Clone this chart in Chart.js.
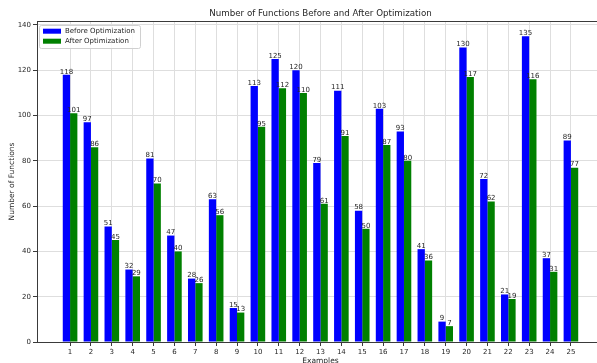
<!DOCTYPE html>
<html><head><meta charset="utf-8">
<script src="https://cdn.jsdelivr.net/npm/chart.js@4"></script>
<style>html,body{margin:0;padding:0;overflow:hidden;background:#fff}#wrap{width:640px;height:372px;position:relative}</style>
</head><body><div id="wrap"><canvas id="c" width="640" height="372"></canvas></div>
<script>
const examples = [1,2,3,4,5,6,7,8,9,10,11,12,13,14,15,16,17,18,19,20,21,22,23,24,25];
const beforeValues = [118,97,51,32,81,47,28,63,15,113,125,120,79,111,58,103,93,41,9,130,72,21,135,37,89];
const afterValues = [101,86,45,29,70,40,26,56,13,95,112,110,61,91,50,87,80,36,7,117,62,19,116,31,77];
const yTicks = [0,20,40,60,80,100,120,140];
const seriesLabels = ['Before Optimization','After Optimization'];
const seriesColors = ['#0000ff','#008000'];
const chartTitle = 'Number of Functions Before and After Optimization';
const xTitle = 'Examples';
const yTitle = 'Number of Functions';

const FONT = 'DejaVu Sans';
const TXT = '#262626';

const framePlugin = {
  id: 'frame',
  afterDatasetsDraw(chart) {
    const {ctx, chartArea: a} = chart;
    ctx.save();
    ctx.strokeStyle = '#3a3a3a';
    ctx.lineWidth = 1;
    ctx.strokeRect(a.left + 0.5, a.top + 0.5, a.right - a.left - 1, a.bottom - a.top);
    ctx.restore();
  }
};

const barLabelPlugin = {
  id: 'barLabels',
  afterDatasetsDraw(chart) {
    const ctx = chart.ctx;
    ctx.save();
    ctx.font = '7px "' + FONT + '"';
    ctx.fillStyle = TXT;
    ctx.textAlign = 'center';
    ctx.textBaseline = 'bottom';
    chart.data.datasets.forEach((ds, di) => {
      const meta = chart.getDatasetMeta(di);
      meta.data.forEach((el, i) => {
        ctx.fillText(String(ds.data[i].y), el.x, el.y + 0.5);
      });
    });
    ctx.restore();
  }
};

const titlePlugin = {
  id: 'plotTitle',
  afterDraw(chart) {
    const {ctx, chartArea: a} = chart;
    ctx.save();
    ctx.font = '8.7px "' + FONT + '"';
    ctx.fillStyle = TXT;
    ctx.textAlign = 'center';
    ctx.textBaseline = 'middle';
    ctx.fillText(chartTitle, (a.left + a.right) / 2, 13.3);
    ctx.restore();
  }
};

const legendPlugin = {
  id: 'innerLegend',
  afterDraw(chart) {
    const {ctx, chartArea: a} = chart;
    const x = a.left + 2, y = a.top + 4, w = 101, h = 23;
    ctx.save();
    ctx.fillStyle = 'rgba(255,255,255,0.85)';
    ctx.strokeStyle = '#d0d0d0';
    ctx.lineWidth = 1;
    ctx.beginPath();
    ctx.roundRect(x + 0.5, y + 0.5, w, h, 2);
    ctx.fill();
    ctx.stroke();
    ctx.font = '7px "' + FONT + '"';
    ctx.textAlign = 'left';
    ctx.textBaseline = 'middle';
    chart.data.datasets.forEach((ds, i) => {
      const cy = y + 6.2 + i * 10;
      ctx.fillStyle = ds.backgroundColor;
      ctx.fillRect(x + 4, cy - 2.5, 18, 5);
      ctx.fillStyle = TXT;
      ctx.fillText(ds.label, x + 26, cy);
    });
    ctx.restore();
  }
};

new Chart(document.getElementById('c'), {
  type: 'bar',
  data: {
    datasets: [
      { label: seriesLabels[0], data: examples.map((x, i) => ({x, y: beforeValues[i]})), backgroundColor: seriesColors[0], borderWidth: 0, categoryPercentage: 0.7, barPercentage: 1.0 },
      { label: seriesLabels[1], data: examples.map((x, i) => ({x, y: afterValues[i]})), backgroundColor: seriesColors[1], borderWidth: 0, categoryPercentage: 0.7, barPercentage: 1.0 }
    ]
  },
  options: {
    responsive: false,
    animation: false,
    devicePixelRatio: 1,
    layout: { padding: { top: 21, right: 36, left: 0, bottom: 0 } },
    plugins: { legend: { display: false }, title: { display: false }, tooltip: { enabled: false } },
    scales: {
      x: {
        type: 'linear', min: -0.585, max: 26.585, offset: false,
        grid: { offset: false, color: '#dedede', tickColor: '#3a3a3a', tickLength: 4, lineWidth: 1 },
        border: { color: '#3a3a3a' },
        ticks: { font: { family: FONT, size: 7 }, color: TXT, padding: 2, maxRotation: 0, autoSkip: false },
        afterBuildTicks: s => { s.ticks = examples.map(v => ({ value: v })); },
        afterFit: s => { s.height = 372 - 342; },
        title: { display: true, text: xTitle, font: { family: FONT, size: 7.5 }, color: TXT, padding: { top: 0, bottom: 6 } }
      },
      y: {
        type: 'linear', min: 0, max: 141.75,
        grid: { color: '#dedede', tickColor: '#3a3a3a', tickLength: 4, lineWidth: 1 },
        border: { color: '#3a3a3a' },
        ticks: { font: { family: FONT, size: 7 }, color: TXT, padding: 2 },
        afterBuildTicks: s => { s.ticks = yTicks.map(v => ({ value: v })); },
        afterFit: s => { s.width = 37; },
        title: { display: true, text: yTitle, font: { family: FONT, size: 7.5 }, color: TXT, padding: { top: 7.5, bottom: 0 } }
      }
    }
  },
  plugins: [framePlugin, barLabelPlugin, titlePlugin, legendPlugin]
});
</script>
</body></html>
